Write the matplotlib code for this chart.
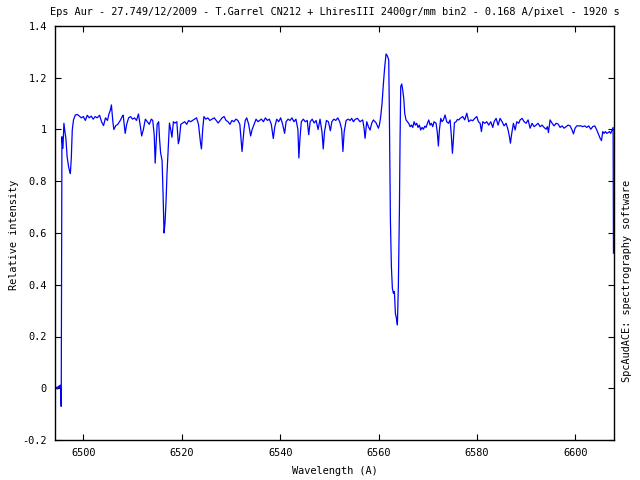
import numpy as np
import matplotlib.pyplot as plt

# Spectre : longueur d'onde (A) et intensite relative
wavelength = [
    6494.30, 6494.50, 6494.70, 6494.90, 6495.10, 6495.30, 6495.42, 6495.50, 6495.65, 6495.85,
    6496.05, 6496.25, 6496.45, 6496.70, 6497.00, 6497.20, 6497.36, 6497.55, 6497.75, 6498.00,
    6498.37, 6498.78, 6499.18, 6499.59, 6500.00, 6500.40, 6500.80, 6501.20, 6501.60, 6502.00,
    6502.40, 6502.80, 6503.30, 6503.70, 6504.10, 6504.50, 6504.90, 6505.20, 6505.50, 6505.70,
    6506.00, 6506.20, 6506.60, 6507.00, 6507.50, 6507.90, 6508.10, 6508.50, 6508.80, 6509.20,
    6509.60, 6510.00, 6510.40, 6510.80, 6511.20, 6511.60, 6511.85, 6512.20, 6512.60, 6513.00,
    6513.40, 6513.80, 6514.10, 6514.40, 6514.60, 6514.80, 6515.00, 6515.30, 6515.50, 6515.70,
    6516.00, 6516.20, 6516.40, 6516.60, 6516.80, 6517.00, 6517.20, 6517.50, 6517.75, 6518.00,
    6518.30, 6518.60, 6519.00, 6519.30, 6519.50, 6519.80, 6520.20, 6520.60, 6521.00, 6521.40,
    6521.80, 6522.20, 6522.60, 6523.00, 6523.40, 6523.80, 6524.00, 6524.25, 6524.50, 6524.90,
    6525.30, 6525.70, 6526.15, 6526.60, 6527.00, 6527.40, 6527.80, 6528.20, 6528.60, 6529.00,
    6529.40, 6529.80, 6530.20, 6530.60, 6531.00, 6531.40, 6531.80, 6532.10, 6532.25, 6532.45,
    6532.65, 6532.90, 6533.20, 6533.60, 6534.00, 6534.30, 6534.70, 6535.10, 6535.50, 6535.80,
    6536.20, 6536.60, 6537.00, 6537.40, 6537.80, 6538.20, 6538.60, 6538.90, 6539.30, 6539.70,
    6540.10, 6540.50, 6540.90, 6541.20, 6541.60, 6542.00, 6542.40, 6542.80, 6543.20, 6543.60,
    6543.80, 6544.00, 6544.30, 6544.70, 6545.10, 6545.50, 6545.80, 6546.10, 6546.50, 6546.90,
    6547.30, 6547.70, 6548.10, 6548.50, 6548.75, 6549.00, 6549.40, 6549.80, 6550.20, 6550.50,
    6550.90, 6551.30, 6551.70, 6552.10, 6552.50, 6552.75, 6553.00, 6553.40, 6553.80, 6554.20,
    6554.54, 6554.88, 6555.22, 6555.69, 6556.23, 6556.77, 6557.05, 6557.25, 6557.59, 6557.93,
    6558.27, 6558.60, 6558.94, 6559.48, 6559.96, 6560.16, 6560.43, 6560.70, 6560.98, 6561.25,
    6561.52, 6561.79, 6562.06, 6562.19, 6562.40, 6562.60, 6562.80, 6563.01, 6563.21, 6563.41,
    6563.62, 6563.82, 6564.02, 6564.23, 6564.36, 6564.50, 6564.70, 6564.90, 6565.11, 6565.31,
    6565.58, 6565.85, 6566.12, 6566.40, 6566.67, 6566.94, 6567.21, 6567.48, 6567.75, 6568.02,
    6568.29, 6568.56, 6568.83, 6569.11, 6569.38, 6569.65, 6569.92, 6570.19, 6570.46, 6570.73,
    6571.00, 6571.27, 6571.68, 6571.95, 6572.15, 6572.36, 6572.63, 6572.90, 6573.17, 6573.51,
    6573.85, 6574.19, 6574.53, 6574.80, 6575.00, 6575.20, 6575.41, 6575.74, 6576.02, 6576.29,
    6576.56, 6577.10, 6577.51, 6577.92, 6578.32, 6578.73, 6579.13, 6579.54, 6579.95, 6580.29,
    6580.63, 6580.90, 6581.17, 6581.57, 6581.98, 6582.39, 6582.79, 6583.20, 6583.47, 6583.88,
    6584.28, 6584.69, 6585.10, 6585.50, 6585.91, 6586.32, 6586.59, 6586.79, 6587.06, 6587.40,
    6587.74, 6588.08, 6588.48, 6588.76, 6589.16, 6589.57, 6589.97, 6590.38, 6590.79, 6591.19,
    6591.60, 6592.01, 6592.41, 6592.82, 6593.23, 6593.63, 6594.04, 6594.31, 6594.51, 6594.85,
    6595.26, 6595.67, 6596.07, 6596.48, 6596.89, 6597.29, 6597.70, 6598.10, 6598.51, 6598.92,
    6599.32, 6599.60, 6599.93, 6600.27, 6600.68, 6601.09, 6601.49, 6601.90, 6602.31, 6602.71,
    6603.12, 6603.52, 6603.93, 6604.34, 6604.74, 6605.02, 6605.29, 6605.56, 6605.83, 6606.10,
    6606.37, 6606.64, 6606.91, 6607.18, 6607.45, 6607.66, 6607.73,
]
intensity = [
    0.000, 0.004, -0.003, 0.008, 0.002, 0.012, -0.020, -0.070, 0.972, 0.927,
    1.024, 0.992, 0.966, 0.895, 0.856, 0.840, 0.830, 0.889, 0.998, 1.037,
    1.056, 1.058, 1.052, 1.045, 1.050, 1.035, 1.055, 1.045, 1.052, 1.040,
    1.050, 1.045, 1.055, 1.030, 1.015, 1.045, 1.035, 1.060, 1.075, 1.095,
    1.030, 1.000, 1.015, 1.020, 1.035, 1.050, 1.055, 0.985, 1.020, 1.045,
    1.050, 1.040, 1.045, 1.035, 1.060, 1.010, 0.975, 1.000, 1.040, 1.030,
    1.020, 1.040, 1.035, 0.980, 0.870, 0.950, 1.020, 1.030, 0.960, 0.910,
    0.880, 0.750, 0.600, 0.640, 0.720, 0.830, 0.910, 1.025, 1.000, 0.970,
    1.030, 1.025, 1.030, 0.945, 0.960, 1.020, 1.025, 1.030, 1.020, 1.035,
    1.030, 1.035, 1.040, 1.045, 1.020, 0.950, 0.925, 1.000, 1.050, 1.040,
    1.045, 1.035, 1.040, 1.045, 1.035, 1.025, 1.035, 1.045, 1.050, 1.035,
    1.030, 1.020, 1.035, 1.030, 1.040, 1.035, 1.020, 0.950, 0.915, 0.960,
    1.000, 1.035, 1.045, 1.020, 0.975, 1.000, 1.020, 1.040, 1.030, 1.035,
    1.040, 1.030, 1.045, 1.035, 1.040, 1.020, 0.965, 1.010, 1.040, 1.030,
    1.045, 1.020, 0.985, 1.030, 1.040, 1.035, 1.045, 1.030, 1.040, 1.000,
    0.890, 0.960, 1.030, 1.040, 1.030, 1.035, 0.980, 1.030, 1.040, 1.025,
    1.035, 1.000, 1.040, 0.990, 0.925, 0.990, 1.035, 1.030, 0.995, 1.030,
    1.040, 1.035, 1.045, 1.030, 1.000, 0.915, 0.990, 1.035, 1.040, 1.035,
    1.043, 1.030, 1.039, 1.043, 1.030, 1.037, 1.005, 0.966, 1.030, 1.011,
    0.998, 1.024, 1.037, 1.026, 1.005, 1.017, 1.050, 1.101, 1.178, 1.243,
    1.292, 1.284, 1.269, 1.062, 0.650, 0.470, 0.386, 0.367, 0.374, 0.290,
    0.270, 0.245, 0.399, 0.689, 0.960, 1.166, 1.176, 1.153, 1.121, 1.062,
    1.037, 1.030, 1.024, 1.011, 1.017, 1.008, 1.030, 1.017, 1.024, 1.008,
    1.017, 0.998, 1.008, 1.001, 1.013, 1.008, 1.024, 1.037, 1.017, 1.024,
    1.011, 1.030, 1.024, 0.985, 0.936, 0.998, 1.043, 1.030, 1.037, 1.056,
    1.030, 1.024, 1.037, 0.972, 0.908, 0.960, 1.026, 1.030, 1.039, 1.037,
    1.043, 1.050, 1.037, 1.063, 1.030, 1.037, 1.034, 1.043, 1.050, 1.030,
    1.024, 0.992, 1.030, 1.024, 1.030, 1.017, 1.030, 1.008, 1.030, 1.043,
    1.017, 1.043, 1.030, 1.014, 1.024, 0.998, 0.972, 0.947, 0.985, 1.024,
    0.998, 1.030, 1.024, 1.037, 1.043, 1.030, 1.024, 1.037, 1.005, 1.024,
    1.011, 1.017, 1.024, 1.011, 1.017, 1.008, 1.001, 1.011, 0.988, 1.037,
    1.024, 1.014, 1.024, 1.021, 1.008, 1.014, 1.005, 1.011, 1.017, 1.014,
    0.998, 0.983, 1.005, 1.014, 1.014, 1.014, 1.011, 1.014, 1.008, 1.014,
    1.001, 1.011, 1.014, 0.998, 0.979, 0.966, 0.957, 0.992, 0.985, 0.992,
    0.985, 0.988, 0.992, 0.985, 0.998, 1.008, 0.522,
]

xticks = [6500, 6520, 6540, 6560, 6580, 6600]
yticks = [-0.2, 0, 0.2, 0.4, 0.6, 0.8, 1, 1.2, 1.4]
ytick_labels = ['-0.2', '0', '0.2', '0.4', '0.6', '0.8', '1', '1.2', '1.4']

title = 'Eps Aur - 27.749/12/2009 - T.Garrel CN212 + LhiresIII 2400gr/mm bin2 - 0.168 A/pixel - 1920 s'

plt.rcParams['font.family'] = ['DejaVu Sans Mono']

fig = plt.figure(figsize=(6.4, 4.8), dpi=100)
ax = fig.add_axes([55.3 / 640, 40 / 480, (614.3 - 55.3) / 640, (440 - 26) / 480])

ax.plot(wavelength, intensity, color='#0000ff', linewidth=0.9)

ax.set_xlim(6494.3, 6607.9)
ax.set_ylim(-0.2, 1.4)
ax.set_xticks(xticks)
ax.set_xticklabels([str(t) for t in xticks])
ax.set_yticks(yticks)
ax.set_yticklabels(ytick_labels)
ax.tick_params(direction='in', length=4, width=0.8, top=True, right=True,
               labelsize=7.4, pad=6)
for sp in ax.spines.values():
    sp.set_linewidth(1.0)

fig.text(334.8 / 640, 1 - 12 / 480, title, ha='center', va='center', fontsize=7.4)
fig.text(334.8 / 640, 1 - 471 / 480, 'Wavelength (A)', ha='center', va='center', fontsize=7.4)
fig.text(14 / 640, 1 - 235 / 480, 'Relative intensity', ha='center', va='center',
         rotation=90, fontsize=7.4)
fig.text(627 / 640, 1 - 281 / 480, 'SpcAudACE: spectrography software', ha='center',
         va='center', rotation=90, fontsize=7.4)

fig.savefig('out.png', dpi=100)
